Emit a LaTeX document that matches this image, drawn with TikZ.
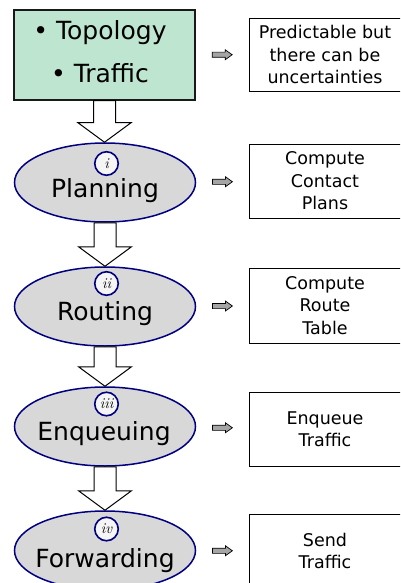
\documentclass[tikz,border=0pt]{standalone}
\usepackage{fontspec}
\newfontfamily\dv{DejaVu Sans}
\usetikzlibrary{shapes.geometric,calc}
\definecolor{boxgreen}{RGB}{190,229,208}
\definecolor{ellgray}{RGB}{216,216,216}
\definecolor{navyb}{RGB}{0,0,128}
\definecolor{arrgray}{RGB}{165,165,165}
\tikzset{
 inbox/.style={draw=black!90, line width=1.5pt, fill=boxgreen, minimum width=181pt, minimum height=90pt, inner sep=0},
 stage/.style={ellipse, draw=navyb, line width=1.5pt, fill=ellgray, minimum width=181pt, minimum height=79pt, inner sep=0},
 numc/.style={circle, draw=navyb, line width=1.6pt, fill=gray!8, minimum size=23.5pt, inner sep=0, font=\fontsize{15}{15}\selectfont\itshape},
 bigtext/.style={anchor=base, font=\dv\fontsize{25}{29}\selectfont, inner sep=0},
 outbox/.style={draw=black, line width=0.9pt, minimum width=152pt, align=center, inner sep=0, font=\dv\fontsize{17.5}{22.5}\selectfont},
 bigarrow/.style={draw=black, fill=white, line width=1pt, line join=miter},
 smallarrow/.style={draw=black, fill=arrgray, line width=0.7pt},
}
\newcommand\stagearrow[2]{\draw[bigarrow] let \p1=(#1.south), \p2=(#2.north) in
 (\x1-11pt,\y1) -- (\x1+11pt,\y1) -- (\x1+11pt,\y2+19.5pt) -- (\x1+26.5pt,\y2+19.5pt)
 -- (\x1,\y2) -- (\x1-26.5pt,\y2+19.5pt) -- (\x1-11pt,\y2+19.5pt) -- cycle;}
\newcommand\sidearrow[2]{\draw[smallarrow] let \p1=($(#1.east)!0.5!(#2.west)$) in
 (\x1-10pt,\y1-2.6pt) -- (\x1+3pt,\y1-2.6pt) -- (\x1+3pt,\y1-5pt) -- (\x1+10pt,\y1)
 -- (\x1+3pt,\y1+5pt) -- (\x1+3pt,\y1+2.6pt) -- (\x1-10pt,\y1+2.6pt) -- cycle;}
\begin{document}
\begin{tikzpicture}[x=1pt,y=-1pt]
\useasboundingbox (0,0) rectangle (400,583);
\clip (0,0) rectangle (400,583);
% input box
\node[inbox] (input) at (104.5,55) {};
\node[bigtext] (topo) at (100,40) {• Topology};
\node[bigtext] (traf) at (100,83) {• Traffic};
% stages
\node[stage] (plan) at (105,182.5) {};
\node[stage] (rout) at (105,306.5) {};
\node[stage] (enq) at (105,426.5) {};
\node[stage] (fwd) at (105,550.5) {};
\node[bigtext] (tplan) at (105,197) {Planning};
\node[bigtext] (trout) at (105,320) {Routing};
\node[bigtext] (tenq) at (104,440) {Enqueuing};
\node[bigtext] (tfwd) at (105,567) {Forwarding};
\node[numc] (n1) at (106.5,163.5) {i};
\node[numc] (n2) at (106.5,283.5) {ii};
\node[numc] (n3) at (106.5,404) {iii};
\node[numc] (n4) at (106.5,529) {iv};
% block arrows
\stagearrow{input}{plan}
\stagearrow{plan}{rout}
\stagearrow{rout}{enq}
\stagearrow{enq}{fwd}
% right boxes
\node[outbox, minimum height=73pt] (o1) at (325,54.5) {Predictable but\\there can be\\uncertainties};
\node[outbox, minimum height=74pt] (o2) at (325,181) {Compute\\Contact\\Plans};
\node[outbox, minimum height=75pt] (o3) at (325,305.5) {Compute\\Route\\Table};
\node[outbox, minimum height=74pt] (o4) at (325,429) {Enqueue\\Traffic};
\node[outbox, minimum height=74pt] (o5) at (325,551) {Send\\Traffic};
% side arrows
\sidearrow{input}{o1}
\sidearrow{plan}{o2}
\sidearrow{rout}{o3}
\sidearrow{enq}{o4}
\sidearrow{fwd}{o5}
\end{tikzpicture}
\end{document}
